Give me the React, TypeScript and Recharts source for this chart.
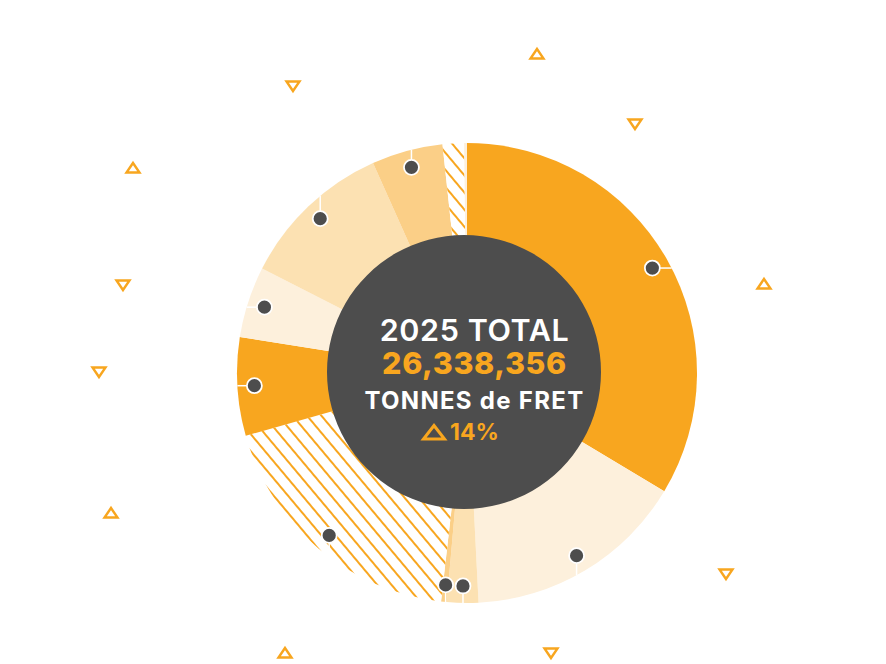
import React from 'react';
import { PieChart, Pie, Cell, Label, ScatterChart, Scatter, XAxis, YAxis } from 'recharts';

// Freight share by segment (percent of 2025 total), clockwise from 12 o'clock
const segments = [
  'Segment 1', 'Segment 2', 'Segment 3', 'Segment 4', 'Segment 5', 'Segment 6',
  'Segment 7', 'Segment 8', 'Segment 9', 'Segment 10', 'Segment 11',
];
const shares = [33.6, 15.6, 2.2, 0.4, 18.8, 6.9, 5.0, 10.8, 5.0, 1.5, 0.2];
const marked = [true, true, true, true, true, true, true, true, true, false, false];

const titleLine = '2025 TOTAL';
const totalLine = '26,338,356';
const unitLine = 'TONNES de FRET';
const changeLine = '14%';

// decorative triangle markers (page coordinates)
const upX = [537, 133, 764, 111, 285];
const upY = [54, 168, 284, 513, 653];
const downX = [293, 635, 123, 99, 726, 551];
const downY = [86, 124, 285, 372, 574, 653];

const W = 886;
const H = 664;
const CX = 467;
const CY = 373;
const R = 230;
const DOT_R = 213;
const ORANGE = '#F8A61F';
const DARK = '#4D4D4D';

const fills = [
  ORANGE, '#FDF0DC', '#FCE1B2', '#FBCF87', 'url(#hatch)', ORANGE,
  '#FDF0DC', '#FCE1B2', '#FBCF87', 'url(#hatch)', '#FDF0DC',
];

const pieData = segments.map((name, i) => ({ name, value: shares[i], marked: marked[i] }));
const centerData = [{ name: 'total', value: 1 }];
const upData = upX.map((x, i) => ({ x, y: upY[i] }));
const downData = downX.map((x, i) => ({ x, y: downY[i] }));

const RAD = Math.PI / 180;

const renderDot = (props: any) => {
  const { midAngle, index } = props;
  if (!marked[index]) return null;
  const x = CX + DOT_R * Math.cos(-midAngle * RAD);
  const y = CY + DOT_R * Math.sin(-midAngle * RAD);
  const dx = Math.cos(-midAngle * RAD);
  const dy = Math.sin(-midAngle * RAD);
  let x2 = x;
  let y2 = y;
  if (Math.abs(dy) > Math.abs(dx)) {
    const h = Math.sqrt(Math.max(0, R * R - (x - CX) * (x - CX)));
    y2 = dy > 0 ? CY + h : CY - h;
  } else {
    const w = Math.sqrt(Math.max(0, R * R - (y - CY) * (y - CY)));
    x2 = dx > 0 ? CX + w : CX - w;
  }
  return (
    <g key={`dot-${index}`}>
      <line x1={x} y1={y} x2={x2} y2={y2} stroke="#FFFFFF" strokeWidth={1.5} />
      <circle cx={x} cy={y} r={7.5} fill={DARK} stroke="#FFFFFF" strokeWidth={1.8} />
    </g>
  );
};

const CenterText = () => {
  const tx = 474.5;
  return (
    <g>
      <text x={tx} y={341} textAnchor="middle" fill="#FFFFFF" fontFamily="Inter" fontWeight={600} fontSize={30.5} letterSpacing={0.6}>
        {titleLine}
      </text>
      <text x={tx} y={374} textAnchor="middle" fill={ORANGE} fontFamily="Inter" fontWeight={800} fontSize={30.5} letterSpacing={0.6}>
        {totalLine}
      </text>
      <text x={tx} y={409} textAnchor="middle" fill="#FFFFFF" fontFamily="Inter" fontWeight={700} fontSize={24} letterSpacing={1.3}>
        {unitLine}
      </text>
      <path d="M434,425.5 L444.5,439 L423.5,439 Z" fill="none" stroke={ORANGE} strokeWidth={3} strokeLinejoin="miter" />
      <text x={450} y={440} textAnchor="start" fill={ORANGE} fontFamily="Inter" fontWeight={700} fontSize={23}>
        {changeLine}
      </text>
    </g>
  );
};

const TriUp = (props: any) => {
  const { cx, cy } = props;
  return (
    <path
      d={`M${cx},${cy - 5} L${cx + 6.5},${cy + 4.5} L${cx - 6.5},${cy + 4.5} Z`}
      fill="none" stroke={ORANGE} strokeWidth={2.4}
    />
  );
};
const TriDown = (props: any) => {
  const { cx, cy } = props;
  return (
    <path
      d={`M${cx},${cy + 5} L${cx + 6.5},${cy - 4.5} L${cx - 6.5},${cy - 4.5} Z`}
      fill="none" stroke={ORANGE} strokeWidth={2.4}
    />
  );
};

export default function App() {
  return (
    <div style={{ position: 'fixed', left: 0, top: 0, width: W, height: H, background: '#FFFFFF' }}>
      <div style={{ position: 'absolute', left: 0, top: 0 }}>
        <ScatterChart width={W} height={H} margin={{ top: 0, right: 0, bottom: 0, left: 0 }}>
          <XAxis type="number" dataKey="x" domain={[0, W]} hide />
          <YAxis type="number" dataKey="y" domain={[0, H]} reversed hide />
          <Scatter data={upData} shape={TriUp} isAnimationActive={false} />
          <Scatter data={downData} shape={TriDown} isAnimationActive={false} />
        </ScatterChart>
      </div>
      <div style={{ position: 'absolute', left: 0, top: 0 }}>
        <PieChart width={W} height={H} margin={{ top: 0, right: 0, bottom: 0, left: 0 }}>
          <defs>
            <pattern id="hatch" patternUnits="userSpaceOnUse" width={11} height={11} patternTransform="rotate(-40)">
              <rect x={0} y={0} width={11} height={11} fill="#FFFFFF" />
              <line x1={1} y1={0} x2={1} y2={11} stroke={ORANGE} strokeWidth={2} />
            </pattern>
          </defs>
          <Pie
            data={pieData}
            dataKey="value"
            nameKey="name"
            cx={CX}
            cy={CY}
            innerRadius={0}
            outerRadius={R}
            startAngle={90}
            endAngle={-270}
            stroke="none"
            label={renderDot}
            labelLine={false}
            isAnimationActive={false}
          >
            {pieData.map((d, i) => (
              <Cell key={d.name} fill={fills[i]} stroke="none" />
            ))}
          </Pie>
          <Pie
            data={centerData}
            dataKey="value"
            cx={464}
            cy={372}
            innerRadius={0}
            outerRadius={137}
            stroke="none"
            fill={DARK}
            isAnimationActive={false}
          >
            <Label position="center" content={() => <CenterText />} />
          </Pie>
        </PieChart>
      </div>
    </div>
  );
}
